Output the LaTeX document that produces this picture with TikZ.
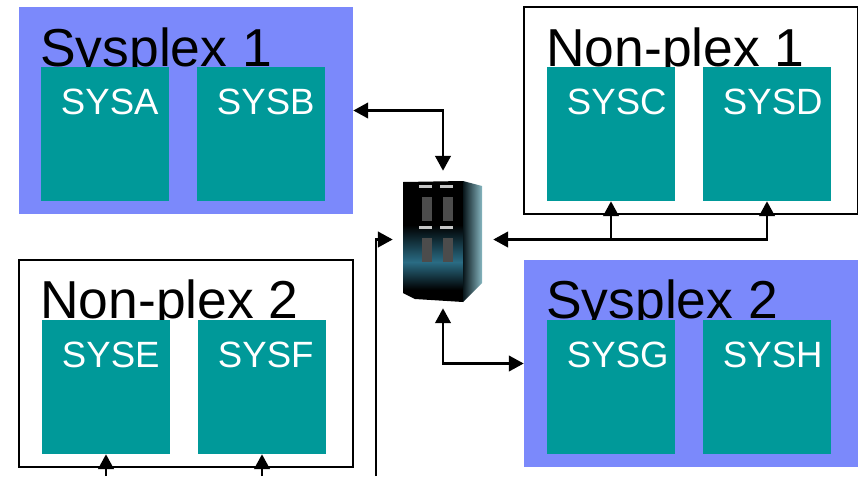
\documentclass[tikz,border=0pt]{standalone}
\usepackage{fontspec}
\setmainfont{Liberation Sans}
\usetikzlibrary{arrows.meta}
\definecolor{plexblue}{HTML}{7B89FB}
\definecolor{systeal}{HTML}{009999}
\definecolor{cabinetblue}{HTML}{2A6C84}
\definecolor{cabinetside}{HTML}{86B6C0}
\tikzset{
	sysplexbox/.style={rectangle,fill=plexblue,inner sep=0,minimum width=8.35cm,minimum height=5.175cm},
	nonplexbox/.style={rectangle,draw=black,line width=1.3pt,fill=white,inner sep=0,minimum width=8.35cm,minimum height=5.175cm},
	plextitle/.style={anchor=base west,inner sep=0,font=\fontsize{38}{38}\selectfont},
	sysbox/.style={rectangle,fill=systeal,text=white,inner sep=0,text width=3.2cm,execute at begin node=\hspace*{.5cm},text height=1.175cm,text depth=2.175cm,font=\fontsize{26}{26}\selectfont},
	link/.style={line width=1.7pt}
}
\begin{document}
\begin{tikzpicture}[x=0.025cm,y=-0.025cm,>={Triangle[length=10.5pt,width=11pt]}]
	\useasboundingbox (0,0) rectangle (858,476);

	\node at (186, 110.5) [sysplexbox] (sysplex1) {};
	\node at (691, 110.5) [nonplexbox] (nonplex1) {};
	\node at (186, 363.5) [nonplexbox] (nonplex2) {};
	\node at (691, 363.5) [sysplexbox] (sysplex2) {};

	\node at ( 40,  66) [plextitle] (title1) {Sysplex 1};
	\node at (546,  66) [plextitle] (title2) {Non-plex 1};
	\node at ( 40, 318) [plextitle] (title3) {Non-plex 2};
	\node at (546, 318) [plextitle] (title4) {Sysplex 2};

	\node at (105, 134) [sysbox] (sysa) {SYSA};
	\node at (261, 134) [sysbox] (sysb) {SYSB};
	\node at (611, 134) [sysbox] (sysc) {SYSC};
	\node at (767, 134) [sysbox] (sysd) {SYSD};
	\node at (106, 387) [sysbox] (syse) {SYSE};
	\node at (262, 387) [sysbox] (sysf) {SYSF};
	\node at (611, 387) [sysbox] (sysg) {SYSG};
	\node at (767, 387) [sysbox] (sysh) {SYSH};

	% the server cabinet
	\node at (443, 239.5) [rectangle,inner sep=0,minimum width=2.5cm,minimum height=3.425cm] (server) {};
	\fill[black] (403,182) -- (463,181) -- (463,302) -- (415,299) -- (403,293) -- cycle;
	\shade[top color=black,bottom color=cabinetblue] (403,225) rectangle (463,262);
	\shade[top color=cabinetblue,bottom color=black] (403,262) -- (463,262) -- (463,290) -- (403,290) -- cycle;
	\shade[left color=black!80!cabinetblue,right color=cabinetside] (463,181) -- (482,186) -- (482,283) -- (463,302) -- cycle;
	\foreach \bayx in {422,443} {
		\foreach \bayy in {197,238} {
			\fill[gray!60!black] (\bayx,\bayy) rectangle ++(10,24);
			\fill[gray!45] (\bayx-3,\bayy-12) rectangle ++(13,3);
		}
	}

	\coordinate (feede) at (106,476);
	\coordinate (feedf) at (262,476);
	\coordinate (feedserver) at (376,476);

	\draw[<->,link] (sysplex1.east) -| (server.north);
	\draw[<->,link] (server.east) -| (sysd.south);
	\draw[->,link]  (sysc.south |- server.east) -- (sysc.south);
	\draw[<->,link] (server.south) |- (sysplex2.west);
	\draw[->,link]  (feedserver) |- (server.west);
	\draw[->,link]  (feede) -- (syse.south);
	\draw[->,link]  (feedf) -- (sysf.south);
\end{tikzpicture}
\end{document}
